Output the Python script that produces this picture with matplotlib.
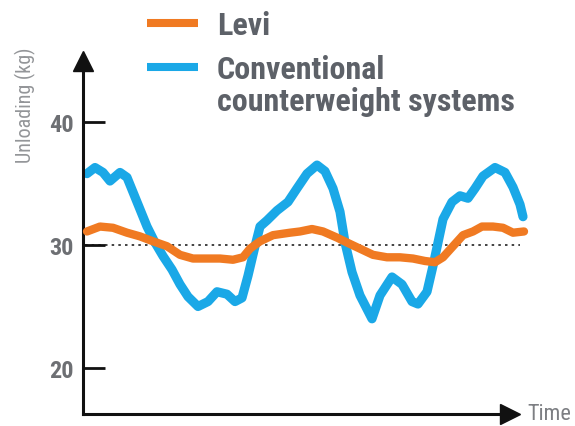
import matplotlib
matplotlib.use("Agg")
import matplotlib.pyplot as plt
from matplotlib import font_manager as fm
from matplotlib.lines import Line2D

# values (time in arbitrary units)
t_conv = [2, 10, 18, 25, 35, 42, 48, 55, 62, 70, 78, 87, 95, 103, 113, 123, 132,
          142, 150, 157, 163, 170, 175, 182, 192, 203, 212, 222, 232, 240, 248,
          255, 260, 267, 275, 287, 295, 307, 317, 327, 333, 342, 348, 353, 358,
          367, 375, 383, 390, 398, 410, 420, 428, 435, 438]
conv = [35.8, 36.3, 35.9, 35.2, 35.9, 35.5, 34.3, 32.9, 31.5, 30.2, 29.1, 28.0,
        26.8, 25.8, 25.0, 25.4, 26.2, 26.0, 25.4, 25.7, 27.5, 29.9, 31.5, 32.0,
        32.8, 33.5, 34.6, 35.8, 36.5, 36.0, 34.6, 32.7, 30.2, 27.8, 25.9, 24.0,
        25.9, 27.4, 26.8, 25.4, 25.2, 26.2, 28.3, 30.2, 32.1, 33.5, 34.0, 33.8,
        34.6, 35.6, 36.3, 35.9, 34.7, 33.3, 32.3]

t_levi = [2, 15, 28, 42, 55, 68, 82, 95, 108, 122, 135, 148, 158, 165, 175, 188,
          205, 215, 227, 238, 252, 262, 275, 288, 302, 315, 328, 340, 350, 358,
          368, 378, 388, 397, 408, 418, 428, 439]
levi = [31.1, 31.5, 31.4, 31.0, 30.7, 30.3, 29.9, 29.2, 28.9, 28.9, 28.9, 28.8,
        29.0, 29.7, 30.3, 30.8, 31.0, 31.1, 31.3, 31.1, 30.6, 30.2, 29.7, 29.2,
        29.0, 29.0, 28.9, 28.7, 28.6, 29.0, 29.9, 30.8, 31.1, 31.5, 31.5, 31.4,
        31.0, 31.1]

yticks = [20, 30, 40]
baseline = 30

BLUE = "#1aa8e7"
ORANGE = "#f07a22"
GREY = "#5d6168"

# a narrow sans if one is installed, otherwise plain Roboto a bit smaller
names = {f.name for f in fm.fontManager.ttflist}
narrow = [n for n in ["Roboto Condensed", "Liberation Sans Narrow", "Noto Sans Condensed",
                      "Open Sans Condensed", "DejaVu Sans Condensed"] if n in names]
if narrow:
    FONT, k = [narrow[0], "DejaVu Sans"], 1.0
else:
    FONT, k = ["Roboto", "DejaVu Sans"], 0.82

W, H = 575, 427
fig = plt.figure(figsize=(W / 100, H / 100), dpi=100)
ax = fig.add_axes([83 / W, (H - 415) / H, (510 - 83) / W, (415 - 62) / H])

l_levi, = ax.plot(t_levi, levi, color=ORANGE, lw=6.0, solid_capstyle="round",
                  solid_joinstyle="round", zorder=3, clip_on=False)
l_conv, = ax.plot(t_conv, conv, color=BLUE, lw=6.6, solid_capstyle="round",
                  solid_joinstyle="round", zorder=2, clip_on=False)
ax.hlines(baseline, 0, 435, colors="#222222", linestyles=(0, (1.5, 2.5)), lw=1.2,
          zorder=1, clip_on=False)

ax.set_xlim(-2, 425)
ax.set_ylim(16.26, 30 + (246 - 62) / 12.3)

for s in ["top", "right"]:
    ax.spines[s].set_visible(False)
for s in ["left", "bottom"]:
    ax.spines[s].set_linewidth(2.2)
    ax.spines[s].set_color("#111111")
ax.plot(0, 1, marker="^", color="#111111", ms=15, transform=ax.transAxes, clip_on=False)
ax.plot(1, 0, marker=">", color="#111111", ms=15, transform=ax.transAxes, clip_on=False)

ax.set_xticks([])
ax.set_yticks(yticks)
ax.tick_params(axis="y", direction="in", length=16, width=2.0, pad=7,
               labelsize=17.5 * k, labelcolor="#6d6f73", color="#111111")
for lab in ax.get_yticklabels():
    lab.set_family(FONT)
    lab.set_fontweight("bold")

fig.text(527 / W, 1 - 415 / H, "Time", va="center", ha="left",
         fontsize=16 * k, color="#7d7f83", family=FONT)
fig.text(25 / W, 1 - 105 / H, "Unloading (kg)", rotation=90, va="center",
         ha="center", fontsize=14.5 * k, color="#939598", family=FONT)

# legend drawn by hand so the blue key sits on the first line of its label
for y, line in [(24, l_levi), (68, l_conv)]:
    fig.add_artist(Line2D([147 / W, 198 / W], [1 - y / H, 1 - y / H], lw=5.8,
                          color=line.get_color(), solid_capstyle="butt"))
lab_kw = dict(fontsize=23 * k, fontweight="bold", color=GREY, family=FONT,
              ha="left", va="baseline")
fig.text(217 / W, 1 - 35 / H, "Levi", **lab_kw)
fig.text(217 / W, 1 - 79 / H, "Conventional", **lab_kw)
fig.text(217 / W, 1 - 111 / H, "counterweight systems", **lab_kw)

fig.savefig("out.png", dpi=100)
